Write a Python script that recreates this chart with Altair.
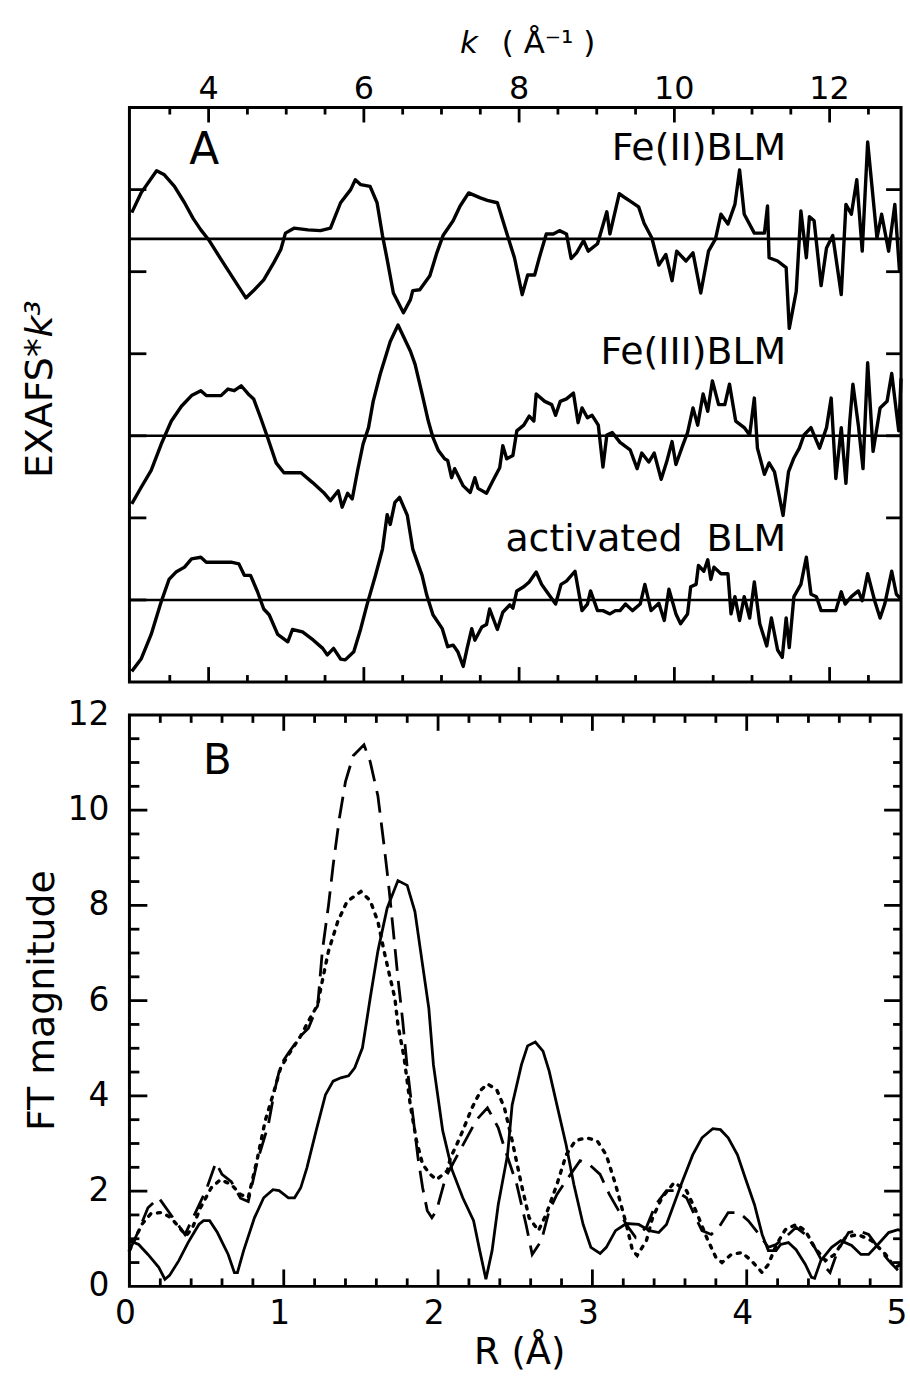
import altair as alt
import pandas as pd

FONT = "DejaVu Sans"

# ---------------- Panel A : EXAFS * k^3 (offset traces) ----------------
fe2_k = [3.01,3.13,3.33,3.43,3.56,3.69,3.80,3.90,4.00,4.16,4.33,4.48,4.58,4.71,4.84,4.93,4.99,5.10,5.28,5.44,
         5.57,5.70,5.83,5.89,5.96,6.08,6.17,6.24,6.30,6.38,6.51,6.60,6.63,6.72,6.85,6.94,7.02,7.15,7.24,7.35,
         7.50,7.59,7.72,7.84,7.94,8.04,8.11,8.20,8.26,8.35,8.44,8.52,8.61,8.67,8.74,8.83,8.89,9.01,9.13,9.17,
         9.29,9.35,9.43,9.54,9.61,9.71,9.80,9.89,9.97,10.03,10.15,10.24,10.34,10.44,10.53,10.60,10.69,10.78,10.84,10.90,
         11.03,11.16,11.20,11.22,11.33,11.44,11.48,11.57,11.63,11.70,11.74,11.80,11.89,11.96,12.04,12.15,12.21,12.28,12.35,12.42,
         12.49,12.61,12.67,12.76,12.84,12.90]
fe2_d = [0.32,0.56,0.83,0.78,0.64,0.44,0.25,0.11,-0.01,-0.25,-0.50,-0.72,-0.63,-0.50,-0.29,-0.13,0.07,0.13,0.11,0.10,
         0.13,0.44,0.60,0.72,0.66,0.64,0.44,0.04,-0.25,-0.66,-0.90,-0.74,-0.63,-0.62,-0.45,-0.17,0.04,0.22,0.40,0.56,
         0.50,0.47,0.44,0.07,-0.23,-0.68,-0.44,-0.44,-0.23,0.06,0.06,0.10,0.06,-0.24,-0.17,-0.02,-0.15,-0.06,0.33,0.06,
         0.55,0.51,0.46,0.39,0.19,0.01,-0.32,-0.19,-0.51,-0.15,-0.27,-0.17,-0.66,-0.15,0.00,0.30,0.18,0.42,0.84,0.30,
         0.07,0.07,0.40,-0.23,-0.27,-0.35,-1.09,-0.64,0.34,-0.23,0.27,0.22,-0.57,-0.11,0.04,-0.68,0.42,0.30,0.72,-0.15,
         1.18,0.01,0.30,-0.15,0.42,-0.39]

fe3_k = [3.01,3.13,3.26,3.39,3.52,3.65,3.78,3.90,3.97,4.16,4.25,4.33,4.42,4.51,4.58,4.67,4.76,4.87,4.97,5.19,
         5.34,5.48,5.57,5.67,5.72,5.79,5.85,5.92,5.99,6.06,6.12,6.21,6.34,6.44,6.60,6.66,6.75,6.83,6.89,6.96,
         7.04,7.08,7.13,7.17,7.28,7.37,7.43,7.47,7.58,7.66,7.75,7.79,7.84,7.92,7.97,8.06,8.13,8.19,8.22,8.33,
         8.42,8.47,8.53,8.61,8.70,8.76,8.81,8.88,8.94,9.02,9.08,9.13,9.20,9.30,9.43,9.52,9.58,9.67,9.74,9.83,
         9.90,9.97,10.02,10.11,10.17,10.24,10.30,10.37,10.43,10.49,10.57,10.65,10.71,10.79,10.90,10.97,11.03,11.07,11.16,11.22,
         11.29,11.40,11.47,11.54,11.61,11.67,11.76,11.87,11.96,12.02,12.08,12.15,12.21,12.26,12.30,12.37,12.43,12.49,12.56,12.65,
         12.74,12.80,12.89,12.92]
fe3_d = [-0.83,-0.63,-0.42,-0.10,0.18,0.36,0.49,0.55,0.49,0.49,0.57,0.55,0.61,0.51,0.45,0.22,-0.02,-0.33,-0.45,-0.45,
         -0.57,-0.69,-0.79,-0.67,-0.87,-0.70,-0.77,-0.42,-0.10,0.10,0.42,0.75,1.15,1.35,1.03,0.87,0.51,0.18,-0.02,-0.18,
         -0.28,-0.30,-0.51,-0.40,-0.61,-0.69,-0.51,-0.64,-0.70,-0.55,-0.39,-0.12,-0.28,-0.24,0.06,0.13,0.24,0.18,0.51,0.42,
         0.38,0.25,0.42,0.45,0.52,0.16,0.34,0.22,0.25,0.13,-0.38,0.01,0.04,-0.08,-0.17,-0.40,-0.21,-0.32,-0.21,-0.53,
         -0.32,-0.07,-0.35,-0.11,0.04,0.34,0.13,0.51,0.30,0.67,0.38,0.38,0.63,0.18,0.10,0.01,0.46,-0.15,-0.47,-0.33,
         -0.44,-0.97,-0.44,-0.27,-0.15,0.01,0.10,-0.15,0.10,0.46,-0.52,0.10,-0.58,0.18,0.63,0.13,-0.40,0.89,-0.19,0.34,
         0.42,0.76,0.06,0.70]

act_k = [3.01,3.13,3.26,3.39,3.49,3.58,3.69,3.78,3.90,3.97,4.12,4.29,4.39,4.46,4.54,4.63,4.71,4.78,4.89,5.02,
         5.08,5.21,5.35,5.47,5.53,5.61,5.70,5.76,5.87,5.96,6.04,6.15,6.24,6.30,6.34,6.40,6.46,6.56,6.63,6.75,
         6.81,6.89,7.01,7.08,7.15,7.21,7.28,7.33,7.39,7.43,7.52,7.58,7.62,7.72,7.79,7.88,7.92,7.97,8.06,8.13,
         8.22,8.29,8.35,8.47,8.54,8.61,8.72,8.81,8.88,8.92,9.01,9.08,9.17,9.24,9.30,9.37,9.46,9.56,9.62,9.70,
         9.80,9.87,9.93,10.02,10.08,10.17,10.21,10.28,10.31,10.38,10.43,10.47,10.51,10.60,10.69,10.73,10.78,10.84,10.90,10.97,
         11.03,11.10,11.19,11.25,11.33,11.39,11.44,11.48,11.54,11.63,11.70,11.76,11.83,11.89,12.01,12.08,12.15,12.20,12.28,12.37,
         12.42,12.49,12.58,12.65,12.71,12.80,12.86,12.92]
act_d = [-0.87,-0.72,-0.42,-0.02,0.25,0.34,0.40,0.50,0.52,0.46,0.46,0.46,0.44,0.30,0.30,0.10,-0.11,-0.18,-0.42,-0.51,
         -0.36,-0.39,-0.49,-0.59,-0.67,-0.59,-0.72,-0.73,-0.63,-0.35,-0.06,0.30,0.62,1.04,0.92,1.19,1.25,1.03,0.62,0.30,
         0.06,-0.18,-0.35,-0.57,-0.55,-0.63,-0.81,-0.59,-0.35,-0.49,-0.33,-0.30,-0.11,-0.36,-0.15,-0.06,-0.10,0.11,0.16,0.22,
         0.34,0.19,0.11,-0.05,0.19,0.23,0.35,-0.13,-0.05,0.11,-0.13,-0.13,-0.17,-0.13,-0.13,-0.05,-0.13,-0.05,0.19,-0.13,
         -0.04,-0.25,0.13,-0.17,-0.29,-0.17,0.16,0.19,0.42,0.35,0.49,0.25,0.40,0.32,0.32,-0.17,0.04,-0.25,0.04,-0.22,
         0.22,-0.29,-0.56,-0.22,-0.61,-0.70,-0.22,-0.58,0.04,0.19,0.52,0.07,0.04,-0.13,-0.13,-0.13,0.10,-0.05,0.04,0.11,
         -0.01,0.32,-0.01,-0.22,-0.05,0.35,0.07,0.01]

a_names = ["Fe(II)BLM", "Fe(III)BLM", "activated\u00a0\u00a0BLM"]
a_offsets = [5.4, 3.0, 1.0]
a_label_y = [6.36, 3.87, 1.60]
a_label_k = 11.44

a_major_k = [4, 6, 8, 10, 12]
a_minor_k = [3.5, 4.5, 5, 5.5, 6.5, 7, 7.5, 8.5, 9, 9.5, 10.5, 11, 11.5, 12.5]
a_yticks = [1, 2, 3, 4, 5, 6]

# ---------------- Panel B : FT magnitude ----------------
solid_r = [0.00,0.06,0.12,0.19,0.23,0.26,0.32,0.38,0.45,0.48,0.52,0.57,0.64,0.68,0.70,0.74,0.81,0.87,0.93,0.97,
           1.03,1.07,1.11,1.15,1.21,1.27,1.32,1.37,1.42,1.46,1.51,1.54,1.56,1.61,1.67,1.74,1.80,1.85,1.90,1.94,
           1.97,2.03,2.09,2.16,2.23,2.27,2.31,2.35,2.39,2.45,2.48,2.54,2.58,2.63,2.68,2.72,2.77,2.83,2.88,2.94,
           2.99,3.05,3.09,3.15,3.22,3.30,3.37,3.43,3.48,3.52,3.58,3.65,3.71,3.78,3.83,3.88,3.94,3.99,4.05,4.10,
           4.14,4.19,4.22,4.27,4.32,4.38,4.42,4.44,4.48,4.55,4.61,4.68,4.74,4.79,4.85,4.92,4.98,5.00]
solid_v = [0.96,0.88,0.67,0.40,0.15,0.23,0.54,0.92,1.30,1.38,1.38,1.13,0.67,0.29,0.29,0.75,1.44,1.86,2.03,2.01,
           1.86,1.86,2.07,2.49,3.27,4.02,4.31,4.38,4.42,4.59,5.01,5.63,6.05,7.04,7.94,8.52,8.42,7.87,6.74,5.84,
           4.65,3.27,2.45,1.86,1.38,0.75,0.15,0.75,1.72,2.76,3.81,4.65,5.05,5.13,4.94,4.52,3.81,2.97,2.14,1.30,
           0.82,0.69,0.82,1.17,1.32,1.30,1.17,1.13,1.30,1.65,2.18,2.76,3.12,3.31,3.29,3.12,2.76,2.28,1.72,1.09,
           0.75,0.75,0.88,0.92,0.77,0.46,0.19,0.17,0.54,0.82,0.96,0.86,0.67,0.67,0.88,1.13,1.19,1.17]

dash_r = [0.00,0.06,0.12,0.19,0.28,0.36,0.45,0.50,0.56,0.60,0.66,0.72,0.77,0.83,0.90,0.94,0.98,1.03,1.11,1.16,
          1.22,1.25,1.29,1.32,1.36,1.40,1.45,1.52,1.56,1.61,1.65,1.68,1.71,1.74,1.77,1.80,1.84,1.87,1.90,1.93,
          1.96,1.99,2.05,2.15,2.25,2.32,2.39,2.43,2.51,2.57,2.61,2.67,2.72,2.77,2.83,2.92,2.98,3.05,3.11,3.17,
          3.22,3.28,3.35,3.41,3.48,3.54,3.61,3.67,3.71,3.77,3.82,3.88,3.95,4.01,4.08,4.14,4.19,4.25,4.32,4.38,
          4.44,4.51,4.54,4.59,4.66,4.72,4.79,4.85,4.92,4.98]
dash_v = [0.75,1.17,1.65,1.86,1.45,1.09,1.70,2.05,2.60,2.35,2.20,1.85,1.78,2.64,3.39,4.10,4.65,4.90,5.26,5.42,
          5.90,7.04,8.00,8.84,9.82,10.60,11.14,11.37,11.02,10.30,9.26,8.42,7.46,6.47,5.60,4.60,3.50,2.70,2.07,1.59,
          1.44,1.59,2.30,2.90,3.50,3.75,3.33,2.91,2.14,1.30,0.67,0.96,1.59,1.93,2.22,2.64,2.56,2.35,1.93,1.59,
          1.30,1.03,1.24,1.72,2.01,2.01,1.86,1.44,1.17,1.09,1.24,1.55,1.55,1.38,1.09,0.82,0.88,1.03,1.24,1.09,
          0.82,0.40,0.29,0.75,1.13,1.17,1.09,0.82,0.54,0.34]

dot_r = [0.00,0.08,0.14,0.21,0.27,0.34,0.37,0.41,0.46,0.53,0.59,0.66,0.72,0.77,0.83,0.88,0.93,0.98,1.03,1.11,
         1.17,1.22,1.24,1.29,1.35,1.41,1.50,1.56,1.61,1.65,1.69,1.72,1.74,1.78,1.82,1.86,1.90,1.95,1.99,2.06,
         2.08,2.12,2.16,2.22,2.28,2.32,2.38,2.43,2.48,2.54,2.59,2.65,2.70,2.77,2.83,2.89,2.96,3.03,3.09,3.15,
         3.22,3.26,3.29,3.35,3.39,3.45,3.53,3.61,3.67,3.74,3.80,3.84,3.90,3.97,4.03,4.10,4.14,4.19,4.25,4.32,
         4.38,4.44,4.51,4.57,4.64,4.72,4.81,4.90,4.96,5.00]
dot_v = [0.75,1.30,1.53,1.55,1.44,1.17,1.07,1.24,1.65,2.07,2.24,2.14,1.93,1.86,2.70,3.48,4.02,4.59,4.86,5.26,
         5.63,5.91,6.26,7.04,7.66,8.08,8.29,8.10,7.66,7.04,6.47,6.05,5.49,4.80,3.81,3.06,2.56,2.35,2.24,2.43,
         2.70,2.97,3.27,3.75,4.13,4.25,4.13,3.75,3.06,2.14,1.44,1.17,1.51,2.14,2.76,3.06,3.12,3.06,2.76,2.14,
         1.30,0.75,0.65,0.96,1.44,1.86,2.18,2.01,1.59,1.03,0.61,0.50,0.67,0.71,0.54,0.29,0.46,0.86,1.19,1.30,
         1.17,0.82,0.54,0.67,1.03,1.09,0.96,0.67,0.40,0.46]

b_major_r = [1, 2, 3, 4]
b_minor_r = [0.2,0.4,0.6,0.8,1.2,1.4,1.6,1.8,2.2,2.4,2.6,2.8,3.2,3.4,3.6,3.8,4.2,4.4,4.6,4.8]
b_major_v = [2, 4, 6, 8, 10]
b_minor_v = [0.5,1,1.5,2.5,3,3.5,4.5,5,5.5,6.5,7,7.5,8.5,9,9.5,10.5,11,11.5]
b_labels_v = [0, 2, 4, 6, 8, 10, 12]
b_labels_r = [0, 1, 2, 3, 4, 5]

# ---------------- geometry / style ----------------
W = 775
HA = 577
HB = 574
LW_A = 3.4
LW_B = 2.8
TICK_W = 2.8

# ---------------- Panel A chart ----------------
rows = []
for name, ks, ds, off in zip(a_names, [fe2_k, fe3_k, act_k], [fe2_d, fe3_d, act_d], a_offsets):
    for k, d in zip(ks, ds):
        rows.append({"series": name, "k": k, "y": d + off})
dfA = pd.DataFrame(rows)

xA_scale = alt.Scale(domain=[2.98, 12.92], nice=False, zero=False)
yA_scale = alt.Scale(domain=[0, 7], nice=False, zero=False)


def xa(field="k"):
    return alt.X(f"{field}:Q", scale=xA_scale, axis=None)


def ya(field="y"):
    return alt.Y(f"{field}:Q", scale=yA_scale, axis=None)


curvesA = alt.Chart(dfA).mark_line(color="black", strokeWidth=LW_A, strokeJoin="round").encode(
    x=xa(), y=ya(), detail="series:N")

baseA = alt.Chart(pd.DataFrame({"y": a_offsets})).mark_rule(color="black", strokeWidth=2.6).encode(
    y=ya(), x=alt.value(0), x2=alt.value(W))

dfMaj = pd.DataFrame({"k": a_major_k})
dfMin = pd.DataFrame({"k": a_minor_k})
dfYT = pd.DataFrame({"y": a_yticks})
tickA = [
    alt.Chart(dfMaj).mark_rule(color="black", strokeWidth=TICK_W).encode(x=xa(), y=alt.value(0), y2=alt.value(15)),
    alt.Chart(dfMin).mark_rule(color="black", strokeWidth=TICK_W).encode(x=xa(), y=alt.value(0), y2=alt.value(7)),
    alt.Chart(dfMaj).mark_rule(color="black", strokeWidth=TICK_W).encode(x=xa(), y=alt.value(HA), y2=alt.value(HA - 15)),
    alt.Chart(dfMin).mark_rule(color="black", strokeWidth=TICK_W).encode(x=xa(), y=alt.value(HA), y2=alt.value(HA - 7)),
    alt.Chart(dfYT).mark_rule(color="black", strokeWidth=TICK_W).encode(y=ya(), x=alt.value(0), x2=alt.value(17)),
    alt.Chart(dfYT).mark_rule(color="black", strokeWidth=TICK_W).encode(y=ya(), x=alt.value(W), x2=alt.value(W - 15)),
]

# tick labels of the top k axis
klabA = alt.Chart(pd.DataFrame({"k": a_major_k, "t": [str(v) for v in a_major_k]})).mark_text(
    font=FONT, fontSize=32, align="center", baseline="alphabetic", color="black").encode(
    x=xa(), y=alt.value(-9), text="t:N")

labA = alt.Chart(pd.DataFrame({"k": [a_label_k] * 3, "y": a_label_y, "t": a_names})).mark_text(
    font=FONT, fontSize=38, align="right", baseline="alphabetic", color="black").encode(
    x=xa(), y=ya(), text="t:N")

letterA = alt.Chart(pd.DataFrame({"k": [3.75], "y": [6.31], "t": ["A"]})).mark_text(
    font=FONT, fontSize=44, align="left", baseline="alphabetic", color="black").encode(
    x=xa(), y=ya(), text="t:N")

titleA_k = alt.Chart(pd.DataFrame({"t": ["k"]})).mark_text(
    font=FONT, fontSize=31, fontStyle="italic", align="left", baseline="alphabetic", color="black").encode(
    x=alt.value(332), y=alt.value(-55), text="t:N")
titleA_unit = alt.Chart(pd.DataFrame({"t": ["( Å\u207b\u00b9 )"]})).mark_text(
    font=FONT, fontSize=31, align="left", baseline="alphabetic", color="black").encode(
    x=alt.value(374), y=alt.value(-55), text="t:N")
ytitleA_1 = alt.Chart(pd.DataFrame({"t": ["EXAFS*"]})).mark_text(
    font=FONT, fontSize=38, angle=270, align="left", baseline="alphabetic", color="black").encode(
    x=alt.value(-78), y=alt.value(372), text="t:N")
ytitleA_2 = alt.Chart(pd.DataFrame({"t": ["k\u00b3"]})).mark_text(
    font=FONT, fontSize=38, angle=270, fontStyle="italic", align="left", baseline="alphabetic",
    color="black").encode(x=alt.value(-78), y=alt.value(231), text="t:N")

panelA = alt.layer(curvesA, baseA, *tickA, klabA, labA, letterA, titleA_k, titleA_unit, ytitleA_1, ytitleA_2
                   ).properties(width=W, height=HA)

# ---------------- Panel B chart ----------------
xB_scale = alt.Scale(domain=[0, 5], nice=False, zero=False)
yB_scale = alt.Scale(domain=[0, 12], nice=False, zero=False)


def xb(field="r"):
    return alt.X(f"{field}:Q", scale=xB_scale, axis=None)


def yb(field="v"):
    return alt.Y(f"{field}:Q", scale=yB_scale, axis=None)


solidB = alt.Chart(pd.DataFrame({"r": solid_r, "v": solid_v})).mark_line(
    color="black", strokeWidth=LW_B).encode(x=xb(), y=yb())
dashB = alt.Chart(pd.DataFrame({"r": dash_r, "v": dash_v})).mark_line(
    color="black", strokeWidth=LW_B, strokeDash=[22, 10]).encode(x=xb(), y=yb())
dotB = alt.Chart(pd.DataFrame({"r": dot_r, "v": dot_v})).mark_line(
    color="black", strokeWidth=LW_B + 0.6, strokeDash=[3, 7], strokeCap="round").encode(x=xb(), y=yb())

dfBMajR = pd.DataFrame({"r": b_major_r})
dfBMinR = pd.DataFrame({"r": b_minor_r})
dfBMajV = pd.DataFrame({"v": b_major_v})
dfBMinV = pd.DataFrame({"v": b_minor_v})
tickB = [
    alt.Chart(dfBMajR).mark_rule(color="black", strokeWidth=TICK_W).encode(x=xb(), y=alt.value(0), y2=alt.value(16)),
    alt.Chart(dfBMinR).mark_rule(color="black", strokeWidth=TICK_W).encode(x=xb(), y=alt.value(0), y2=alt.value(8)),
    alt.Chart(dfBMajR).mark_rule(color="black", strokeWidth=TICK_W).encode(x=xb(), y=alt.value(HB), y2=alt.value(HB - 17)),
    alt.Chart(dfBMinR).mark_rule(color="black", strokeWidth=TICK_W).encode(x=xb(), y=alt.value(HB), y2=alt.value(HB - 8)),
    alt.Chart(dfBMajV).mark_rule(color="black", strokeWidth=TICK_W).encode(y=yb(), x=alt.value(0), x2=alt.value(18)),
    alt.Chart(dfBMinV).mark_rule(color="black", strokeWidth=TICK_W).encode(y=yb(), x=alt.value(0), x2=alt.value(10)),
    alt.Chart(dfBMajV).mark_rule(color="black", strokeWidth=TICK_W).encode(y=yb(), x=alt.value(W), x2=alt.value(W - 17)),
    alt.Chart(dfBMinV).mark_rule(color="black", strokeWidth=TICK_W).encode(y=yb(), x=alt.value(W), x2=alt.value(W - 8)),
]

rlabB = alt.Chart(pd.DataFrame({"r": b_labels_r, "t": [str(v) for v in b_labels_r]})).mark_text(
    font=FONT, fontSize=33, align="center", baseline="alphabetic", color="black", dx=-4).encode(
    x=xb(), y=alt.value(HB + 38), text="t:N")
vlabB = alt.Chart(pd.DataFrame({"v": b_labels_v, "t": [str(v) for v in b_labels_v]})).mark_text(
    font=FONT, fontSize=33, align="right", baseline="middle", color="black").encode(
    y=yb(), x=alt.value(-20), text="t:N")

letterB = alt.Chart(pd.DataFrame({"r": [0.477], "v": [10.76], "t": ["B"]})).mark_text(
    font=FONT, fontSize=42, align="left", baseline="alphabetic", color="black").encode(
    x=xb(), y=yb(), text="t:N")

ytitleB = alt.Chart(pd.DataFrame({"t": ["FT magnitude"]})).mark_text(
    font=FONT, fontSize=38, angle=270, align="center", baseline="alphabetic", color="black").encode(
    x=alt.value(-76), y=alt.value(HB / 2), text="t:N")
xtitleB = alt.Chart(pd.DataFrame({"t": ["R (Å)"]})).mark_text(
    font=FONT, fontSize=37, align="center", baseline="alphabetic", color="black").encode(
    x=alt.value(392), y=alt.value(HB + 78), text="t:N")

panelB = alt.layer(solidB, dashB, dotB, *tickB, rlabB, vlabB, letterB, ytitleB, xtitleB
                   ).properties(width=W, height=HB)

chart = alt.vconcat(panelA, panelB, spacing=33, bounds="flush").properties(
    padding={"left": 20, "top": 23, "right": 0, "bottom": 0}
).configure_view(stroke="black", strokeWidth=3)

chart.save("out.html", embed_options={"renderer": "svg", "actions": False})
